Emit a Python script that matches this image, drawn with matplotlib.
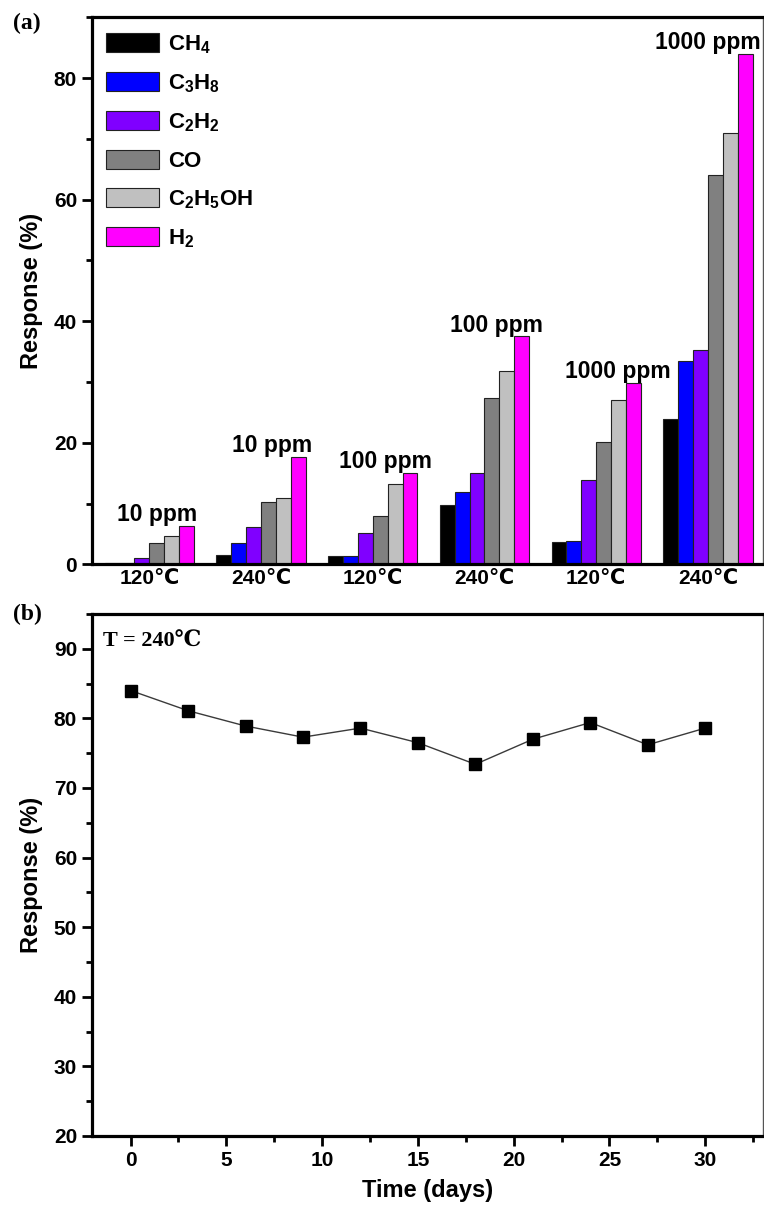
import matplotlib
matplotlib.use('Agg')
import numpy as np
import matplotlib.pyplot as plt
from matplotlib.ticker import MultipleLocator

plt.rcParams['font.family'] = ['Liberation Sans', 'DejaVu Sans']
plt.rcParams['font.weight'] = 'bold'
plt.rcParams['mathtext.fontset'] = 'custom'
plt.rcParams['mathtext.rm'] = 'Liberation Sans:bold'
plt.rcParams['mathtext.it'] = 'Liberation Sans:bold'
plt.rcParams['mathtext.bf'] = 'Liberation Sans:bold'
plt.rcParams['mathtext.default'] = 'regular'

# ---- (a) response of each gas, grouped by temperature / concentration ----
groups = ['120℃', '240℃', '120℃', '240℃', '120℃', '240℃']
conc = ['10 ppm', '10 ppm', '100 ppm', '100 ppm', '1000 ppm', '1000 ppm']
gases = ['$CH_4$', '$C_3H_8$', '$C_2H_2$', 'CO', '$C_2H_5OH$', '$H_2$']
ch4 = [0.3, 1.6, 1.4, 9.8, 3.7, 24.0]
c3h8 = [0.3, 3.5, 1.4, 11.9, 3.8, 33.4]
c2h2 = [1.1, 6.2, 5.2, 15.0, 13.9, 35.2]
co = [3.6, 10.2, 7.9, 27.3, 20.2, 64.0]
c2h5oh = [4.6, 11.0, 13.3, 31.9, 27.0, 71.0]
h2 = [6.3, 17.7, 15.0, 37.5, 29.8, 84.0]

# ---- (b) long-term stability at 240 ℃ ----
days = [0, 3, 6, 9, 12, 15, 18, 21, 24, 27, 30]
resp = [84.0, 81.1, 78.9, 77.3, 78.6, 76.5, 73.4, 77.0, 79.4, 76.2, 78.6]

colors = ['#000000', '#0000ff', '#8000ff', '#808080', '#c0c0c0', '#ff00ff']
series = [ch4, c3h8, c2h2, co, c2h5oh, h2]
label_dx = [0.07, 0.10, 0.11, 0.11, 0.19, 0.0]   # ppm label offsets from group centre

fig = plt.figure(figsize=(7.64, 12.10), dpi=100)
ax1 = fig.add_axes([0.1208, 0.5335, 0.8775, 0.4522])
ax2 = fig.add_axes([0.1208, 0.0612, 0.8775, 0.4314])


def style(ax):
    for s in ('left', 'bottom', 'top'):
        ax.spines[s].set_linewidth(2.3)
    ax.spines['right'].set_linewidth(1.0)
    ax.spines['right'].set_color('#555555')
    ax.tick_params(which='major', direction='out', length=7, width=2.0,
                   labelsize=15, pad=4, top=False, right=False)
    ax.tick_params(which='minor', direction='out', length=4, width=2.0,
                   top=False, right=False)


x = np.arange(len(groups))
w = 0.8 / len(series)
for k, (vals, c, name) in enumerate(zip(series, colors, gases)):
    ax1.bar(x - 0.4 + w * (k + 0.5), vals, width=w, color=c,
            edgecolor='#222222', linewidth=0.8, label=name, zorder=2)

for i, (t, v) in enumerate(zip(conc, h2)):
    ax1.text(i + label_dx[i], v + 0.8, t, ha='center', va='baseline',
             fontsize=16.5, fontweight='bold', clip_on=False)

style(ax1)
ax1.set_xlim(-0.51, 5.49)
ax1.set_ylim(0, 90)
ax1.set_xticks(x)
ax1.set_xticklabels(groups, family=['Liberation Sans', 'DejaVu Sans'])
ax1.tick_params(axis='x', length=0, pad=3)
ax1.yaxis.set_major_locator(MultipleLocator(20))
ax1.yaxis.set_minor_locator(MultipleLocator(10))
ax1.set_ylabel('Response (%)', fontsize=17, fontweight='bold', labelpad=8)
ax1.legend(loc='upper left', bbox_to_anchor=(0.02, 0.971), frameon=False,
           fontsize=16, handlelength=2.4, handleheight=0.95,
           handletextpad=0.4, labelspacing=0.72, borderpad=0, borderaxespad=0)

ax2.plot(days, resp, color='#3a3a3a', linewidth=1.0, marker='s',
         markersize=8.5, markerfacecolor='black', markeredgecolor='black',
         zorder=3)
style(ax2)
ax2.set_xlim(-2, 33)
ax2.set_ylim(20, 95)
ax2.xaxis.set_major_locator(MultipleLocator(5))
ax2.xaxis.set_minor_locator(MultipleLocator(2.5))
ax2.yaxis.set_major_locator(MultipleLocator(10))
ax2.yaxis.set_minor_locator(MultipleLocator(5))
ax2.set_xlabel('Time (days)', fontsize=17, fontweight='bold', labelpad=6)
ax2.set_ylabel('Response (%)', fontsize=17, fontweight='bold', labelpad=8)
ax2.text(0.016, 0.965, 'T = 240℃', transform=ax2.transAxes, ha='left',
         va='top', fontsize=16, fontweight='bold',
         family=['Liberation Serif', 'DejaVu Serif'])

fig.text(13 / 764, 1 - 23 / 1210, '(a)', ha='left', va='center', fontsize=17,
         fontweight='bold', family='Liberation Serif')
fig.text(13 / 764, 1 - 614 / 1210, '(b)', ha='left', va='center', fontsize=17,
         fontweight='bold', family='Liberation Serif')

fig.savefig('out.png', dpi=100, facecolor='white')
